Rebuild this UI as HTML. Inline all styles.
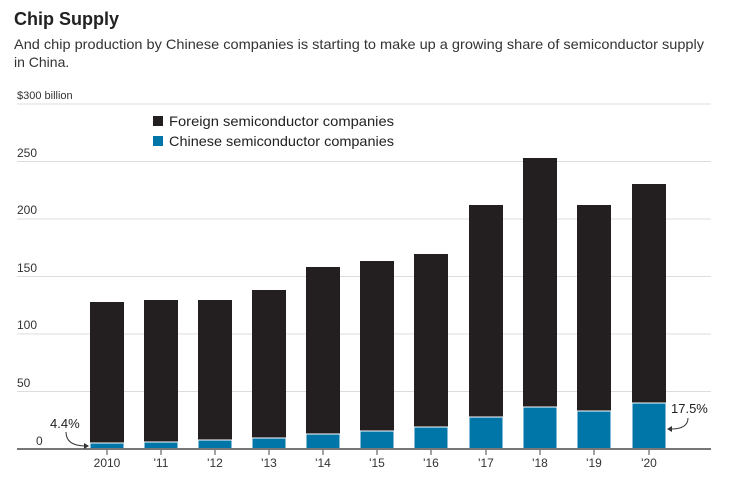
<!DOCTYPE html><html><head><style>body{margin:0;background:#fff;font-family:"Liberation Sans",sans-serif;}</style></head><body>
<svg width="734" height="479" xmlns="http://www.w3.org/2000/svg" font-family="Liberation Sans, sans-serif">
<text x="14" y="25" font-size="18" font-weight="bold" fill="#222">Chip Supply</text>
<text x="14" y="49" font-size="14" fill="#333" textLength="690" lengthAdjust="spacingAndGlyphs">And chip production by Chinese companies is starting to make up a growing share of semiconductor supply</text>
<text x="14" y="67" font-size="14" fill="#333">in China.</text>
<g stroke="#ddd" stroke-width="1">
<line x1="17" x2="711" y1="104" y2="104"/><line x1="17" x2="711" y1="161.5" y2="161.5"/><line x1="17" x2="711" y1="219" y2="219"/><line x1="17" x2="711" y1="276.5" y2="276.5"/><line x1="17" x2="711" y1="334" y2="334"/><line x1="17" x2="711" y1="391.5" y2="391.5"/></g>
<g font-size="12" fill="#333">
<text x="17" y="99" font-size="11">$300 billion</text><text x="17" y="157">250</text><text x="17" y="214">200</text><text x="17" y="272">150</text><text x="17" y="329">100</text><text x="17" y="387">50</text><text x="36" y="445">0</text></g>
<rect x="153" y="116" width="10" height="10" fill="#231f20"/><text x="169" y="126" font-size="14" fill="#222" textLength="225" lengthAdjust="spacingAndGlyphs">Foreign semiconductor companies</text>
<rect x="153" y="136" width="10" height="10" fill="#0076a8"/><text x="169" y="146" font-size="14" fill="#222" textLength="225" lengthAdjust="spacingAndGlyphs">Chinese semiconductor companies</text>
<g fill="#231f20">
<rect x="90" y="302" width="34" height="147"/><rect x="144" y="300" width="34" height="149"/><rect x="198" y="300" width="34" height="149"/><rect x="252" y="290" width="34" height="159"/><rect x="306" y="267" width="34" height="182"/><rect x="360" y="261" width="34" height="188"/><rect x="414" y="254" width="34" height="195"/><rect x="469" y="205" width="34" height="244"/><rect x="523" y="158" width="34" height="291"/><rect x="577" y="205" width="34" height="244"/><rect x="632" y="184" width="34" height="265"/></g>
<g fill="#0076a8" stroke="#fff" stroke-width="1">
<rect x="90" y="443" width="34" height="6"/><rect x="144" y="442" width="34" height="7"/><rect x="198" y="440" width="34" height="9"/><rect x="252" y="438" width="34" height="11"/><rect x="306" y="434" width="34" height="15"/><rect x="360" y="431" width="34" height="18"/><rect x="414" y="427" width="34" height="22"/><rect x="469" y="417" width="34" height="32"/><rect x="523" y="407" width="34" height="42"/><rect x="577" y="411" width="34" height="38"/><rect x="632" y="403" width="34" height="46"/></g>
<line x1="17" x2="711" y1="449" y2="449" stroke="#777" stroke-width="2"/>
<g stroke="#444" stroke-width="1"><line x1="107" x2="107" y1="450" y2="455"/><line x1="161" x2="161" y1="450" y2="455"/><line x1="215" x2="215" y1="450" y2="455"/><line x1="269" x2="269" y1="450" y2="455"/><line x1="323" x2="323" y1="450" y2="455"/><line x1="377" x2="377" y1="450" y2="455"/><line x1="431" x2="431" y1="450" y2="455"/><line x1="486" x2="486" y1="450" y2="455"/><line x1="540" x2="540" y1="450" y2="455"/><line x1="594" x2="594" y1="450" y2="455"/><line x1="649" x2="649" y1="450" y2="455"/></g>
<g font-size="12" fill="#333" text-anchor="middle">
<text x="107" y="467">2010</text><text x="161" y="467">'11</text><text x="215" y="467">'12</text><text x="269" y="467">'13</text><text x="323" y="467">'14</text><text x="377" y="467">'15</text><text x="431" y="467">'16</text><text x="486" y="467">'17</text><text x="540" y="467">'18</text><text x="594" y="467">'19</text><text x="649" y="467">'20</text></g>
<text x="50" y="428" font-size="13" fill="#222">4.4%</text>
<path d="M66 432 Q66 446 86 446" fill="none" stroke="#333"/><path d="M89 446 l-5 -3 v6z" fill="#333"/>
<text x="671" y="413" font-size="13" fill="#222">17.5%</text>
<path d="M688 418 Q688 429 671 429" fill="none" stroke="#333"/><path d="M667 429 l5 -3 v6z" fill="#333"/>
</svg></body></html>
